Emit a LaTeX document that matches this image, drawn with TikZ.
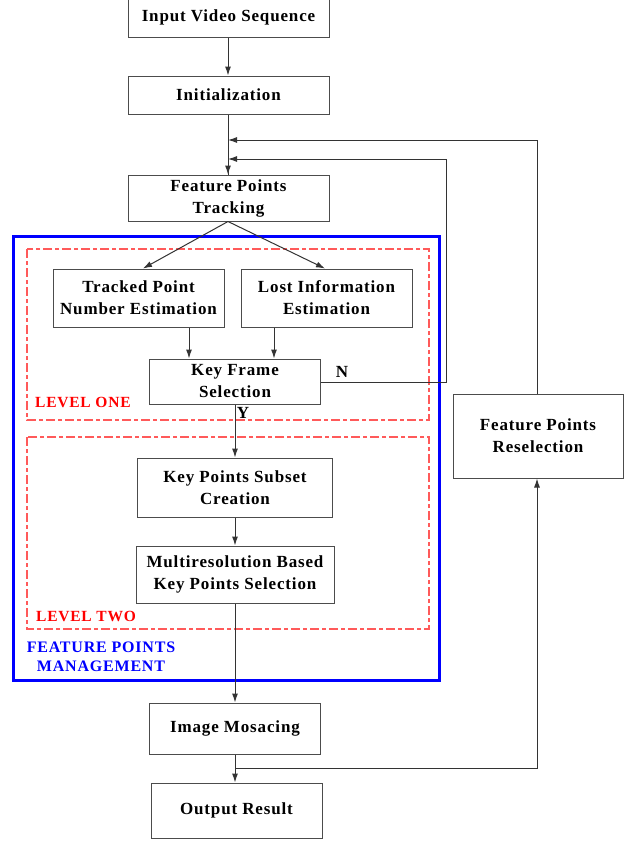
\documentclass[tikz,border=0pt]{standalone}
\usepackage{fontspec}
\setmainfont{Liberation Serif}[LetterSpace=5]
\usetikzlibrary{arrows.meta}
\definecolor{dashred}{RGB}{255,90,90}
\tikzset{
  box/.style={draw=black!70, line width=1pt, fill=white, align=center, inner sep=0pt,
    font=\fontsize{17}{22}\selectfont\bfseries},
  conn/.style={draw=black!80, line width=1pt},
  arr/.style={conn, -{Latex[length=9pt,width=6pt]}},
  levelbox/.style={draw=dashred, line width=1.2pt, dash pattern=on 9pt off 3pt on 4pt off 3pt},
  redlabel/.style={text=red, font=\fontsize{15.5}{18}\selectfont\bfseries, anchor=west, inner sep=0pt},
  yn/.style={font=\fontsize{17}{18}\selectfont\bfseries, inner sep=0pt}
}
\begin{document}
\begin{tikzpicture}[x=1pt,y=-1pt]
\useasboundingbox (0,0) rectangle (629,841);
\fill[white] (0,0) rectangle (629,841);

% management and level frames
\draw[blue, line width=3pt] (13,236) rectangle (439,680);
\draw[levelbox] (27,249) rectangle (429,420);
\draw[levelbox] (27,437) rectangle (429,629);

% boxes
\node[box, minimum width=201pt, minimum height=39pt] (inp) at (228.5,17.5) {Input Video Sequence};
\node[box, minimum width=201pt, minimum height=38pt] (init) at (228.5,95) {Initialization};
\node[box, minimum width=201pt, minimum height=46pt] (fpt) at (228.5,198) {Feature Points\\Tracking};
\node[box, minimum width=171pt, minimum height=58pt] (tpn) at (138.5,298) {Tracked Point\\Number Estimation};
\node[box, minimum width=171pt, minimum height=58pt] (lie) at (326.5,298) {Lost Information\\Estimation};
\node[box, minimum width=171pt, minimum height=45pt] (kfs) at (235,381.5) {Key Frame\\Selection};
\node[box, minimum width=195pt, minimum height=59pt] (kpsc) at (235,487.5) {Key Points Subset\\Creation};
\node[box, minimum width=198pt, minimum height=57pt] (mrk) at (235,574.5) {Multiresolution Based\\Key Points Selection};
\node[box, minimum width=171pt, minimum height=51pt] (img) at (235,728.5) {Image Mosacing};
\node[box, minimum width=171pt, minimum height=55pt] (out) at (236.5,810.5) {Output Result};
\node[box, minimum width=170pt, minimum height=84pt] (fpr) at (538,436) {Feature Points\\Reselection};

% labels
\node[redlabel] (l1) at (35,402) {LEVEL ONE};
\node[redlabel] (l2) at (36,616) {LEVEL TWO};
\node[text=blue, align=center, inner sep=0pt, font=\fontsize{16}{19}\selectfont\bfseries] (fpm) at (101,656.5) {FEATURE POINTS\\MANAGEMENT};
\node[yn] (nlab) at (342,372) {N};
\node[yn] (ylab) at (243,413) {Y};

% coordinates
\coordinate (fb1) at (228,140);
\coordinate (fb2) at (228,159);
\coordinate (nturn) at (446,382);
\coordinate (split) at (235,768);

% connectors
\draw[arr] (inp.south -| 228,0) -- (init.north -| 228,0);
\draw[conn] (init.south -| 228,0) -- (fpt.north -| 228,0);
\draw[arr] (fpt.north -| 228,0) ++(0,-12) -- (fpt.north -| 228,0);
\draw[arr] (fpr.north -| 537,0) -- (537,140) -- (fb1);
\draw[arr] (kfs.east |- nturn) -- (nturn) -- (446,159) -- (fb2);
\draw[arr] (fpt.south -| 228,0) -- (tpn.north -| 143,0);
\draw[arr] (fpt.south -| 228,0) -- (lie.north -| 325,0);
\draw[arr] (tpn.south -| 189,0) -- (kfs.north -| 189,0);
\draw[arr] (lie.south -| 274,0) -- (kfs.north -| 274,0);
\draw[arr] (kfs.south) -- (kpsc.north);
\draw[arr] (kpsc.south) -- (mrk.north);
\draw[arr] (mrk.south) -- (img.north);
\draw[arr] (img.south) -- (img.south |- out.north);
\draw[arr] (split) -- (537,768) -- (fpr.south -| 537,0);
\end{tikzpicture}
\end{document}
